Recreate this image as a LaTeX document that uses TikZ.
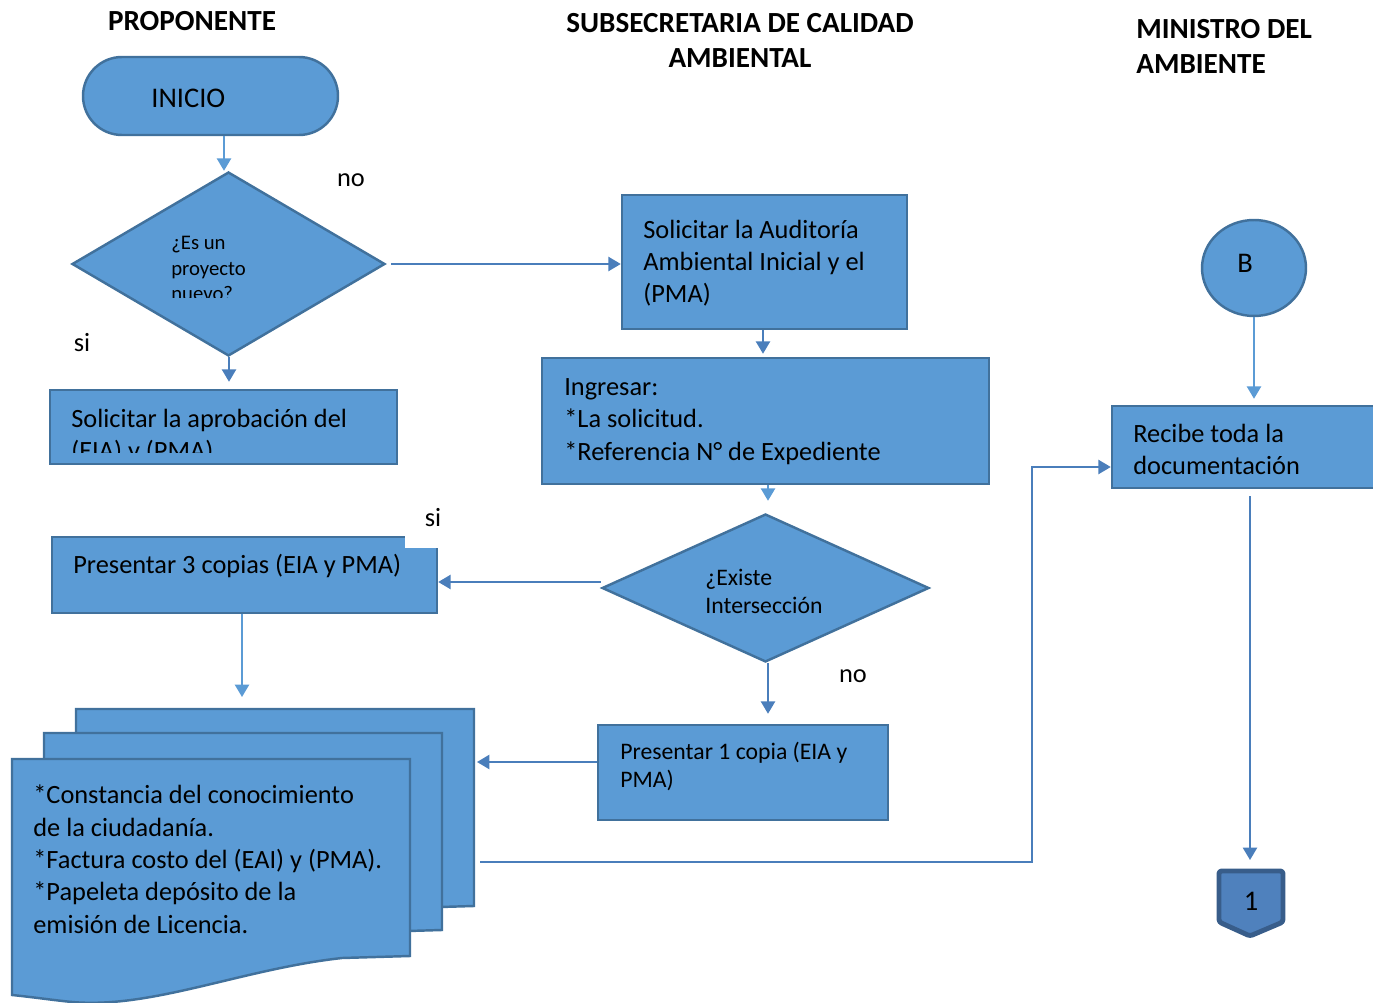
\documentclass[tikz,border=0pt]{standalone}
\usepackage{fontspec}
\setmainfont{Carlito}
\usetikzlibrary{shapes.geometric,arrows.meta,fit}
\definecolor{fillb}{HTML}{5B9BD5}
\definecolor{edgeb}{HTML}{41719C}
\definecolor{arrdark}{HTML}{4A7EBB}
\definecolor{opfill}{HTML}{4F81BD}
\definecolor{opedge}{HTML}{385D8A}
\newcommand\txtbody{\fontsize{15}{18.4}\selectfont}
\newcommand\txtdia{\fontsize{11.8}{14.7}\selectfont}
\newcommand\txtmid{\fontsize{13.5}{15.9}\selectfont}
\newcommand\txtbig{\fontsize{16.2}{19.5}\selectfont}
\newcommand\txthead{\bfseries\fontsize{16.6}{20}\selectfont}
\begin{document}
\begin{tikzpicture}[x=0.02cm,y=-0.02cm,
  shp/.style={draw=edgeb, fill=fillb, line width=1.4pt},
  box/.style={shp, inner sep=0pt},
  dia/.style={shp, diamond, inner sep=0pt},
  arrD/.style={draw=arrdark, line width=1.1pt, -{Triangle[width=8pt,length=7pt]}},
  arrL/.style={draw=fillb, line width=1.1pt, -{Triangle[width=8pt,length=7pt]}},
  txt/.style={inner sep=0pt, align=left, anchor=base west, font=\txtbody, text=black},
  lbl/.style={inner sep=0pt, anchor=base, font=\txtbody, text=black},
  head/.style={inner sep=0pt, font=\txthead, text=black},
  mdpage/.pic={\path[shp] (0,0) -- (398,0) -- (398,197) -- (330,199)
     .. controls (230,210) and (140,250) .. (60,243)
     .. controls (40,241) and (20,238) .. (0,236) -- cycle;}
]
\useasboundingbox (0,0) rectangle (1373,1003);
\clip (0,0) rectangle (1373,1003);

% headers (base anchor of a multi-line node = baseline of its last line)
\node[head, anchor=base] (hP) at (192,31) {PROPONENTE};
\node[head, anchor=base, align=center] (hS) at (740,68) {SUBSECRETARIA DE CALIDAD\\AMBIENTAL};
\node[head, anchor=base west, align=left] (hM) at (1136,74) {MINISTRO DEL\\AMBIENTE};

% proponente column
\node[box, rounded corners=0.78cm, fit={(83,57)(338,135)}] (ini) {};
\node[txt, font=\txtbig] (iniT) at (151,108) {INICIO};
\node[dia, minimum width=6.26cm, minimum height=3.68cm] (d1) at (228.5,264) {};
\begin{scope}
  \clip (0,0) rectangle (1373,298);
  \node[txt, font=\txtdia] (d1T) at (171,301) {¿Es un\\proyecto\\nuevo?};
\end{scope}
\node[lbl] (no1) at (351,187) {no};
\node[lbl] (si1) at (82,352) {si};
\node[box, fit={(50,390)(397,464)}] (apr) {};
\begin{scope}
  \clip (0,0) rectangle (1373,453);
  \node[txt] (aprT) at (71,459.5) {Solicitar la aprobación del\\(EIA) y (PMA)};
\end{scope}

% subsecretaria column
\node[box, fit={(622,195)(907,329)}] (aud) {};
\node[txt] (audT) at (643,303) {Solicitar la Auditoría\\Ambiental Inicial y el\\(PMA)};
\node[box, fit={(542,358)(989,484)}] (ing) {};
\node[txt] (ingT) at (564,460) {Ingresar:\\*La solicitud.\\*Referencia N° de Expediente};
\node[dia, minimum width=6.54cm, minimum height=2.96cm] (d2) at (765.5,588) {};
\node[txt, font=\txtmid] (d2T) at (705,613) {¿Existe\\Intersección};

\node[box, fit={(52,537)(437,613)}] (p3) {};
\fill[white] (405,500) rectangle (462,548);
\node[lbl] (si2) at (433,526) {si};
\node[txt] (p3T) at (73,573) {Presentar 3 copias (EIA y PMA)};
\node[lbl] (no2) at (853,682) {no};
\node[box, fit={(598,725)(888,820)}] (p1) {};
\node[txt, font=\txtmid] (p1T) at (620,787) {Presentar 1 copia (EIA y\\PMA)};

% multidocument
\pic at (76,709) {mdpage};
\pic at (44,733) {mdpage};
\pic at (12,759) {mdpage};
\node[txt] (mdT) at (33,933) {*Constancia del conocimiento\\de la ciudadanía.\\*Factura costo del (EAI) y (PMA).\\*Papeleta depósito de la\\emisión de Licencia.};

% ministro column
\node[shp, ellipse, inner sep=0pt, minimum width=2.08cm, minimum height=1.92cm] (cB) at (1254,268) {};
\node[lbl, font=\txtbig] (cBT) at (1245,273) {B};
\node[box, fit={(1112,406)(1395,488)}] (rec) {};
\node[txt] (recT) at (1133,474.5) {Recibe toda la\\documentación};
\path[draw=opedge, fill=opfill, line width=2.8pt, rounded corners=1.5pt, line join=round]
  (1219,871) -- (1283,871) -- (1283,922) -- (1250,936) -- (1219,922) -- cycle;
\node[lbl, font=\txtbig] (opT) at (1251,910) {1};

% connectors
\coordinate (mdTop) at (242,697);
\coordinate (mdIn) at (477,762);
\coordinate (mdOut) at (480,862);
\coordinate (opTop) at (1250,869);
\draw[arrL] (ini.south -| 224,0) -- (d1.north -| 224,0);
\draw[arrD] ([xshift=0.1cm]d1.east) -- (aud.west |- d1.east);
\draw[arrD, shorten >=0.14cm] (d1.south -| 229,0) -- (apr.north -| 229,0);
\draw[arrD, shorten >=0.06cm] (aud.south -| 763,0) -- (ing.north -| 763,0);
\draw[arrL, shorten >=0.24cm] (ing.south -| 768,0) -- (d2.north -| 768,0);
\draw[arrD] (d2.west |- 0,582) -- (p3.east |- 0,582);
\draw[arrL] (p3.south -| 242,0) -- (mdTop);
\draw[arrD, shorten >=0.2cm] (d2.south -| 768,0) -- (p1.north -| 768,0);
\draw[arrD] (p1.west |- 0,762) -- (mdIn);
\draw[arrD] (mdOut) -- (1032,862) -- (1032,467) -- (rec.west |- 0,467);
\draw[arrL, shorten >=0.12cm] (cB.south -| 1254,0) -- (rec.north -| 1254,0);
\draw[arrD, shorten <=0.14cm, shorten >=0.18cm] (rec.south -| 1250,0) -- (opTop);
\end{tikzpicture}
\end{document}
